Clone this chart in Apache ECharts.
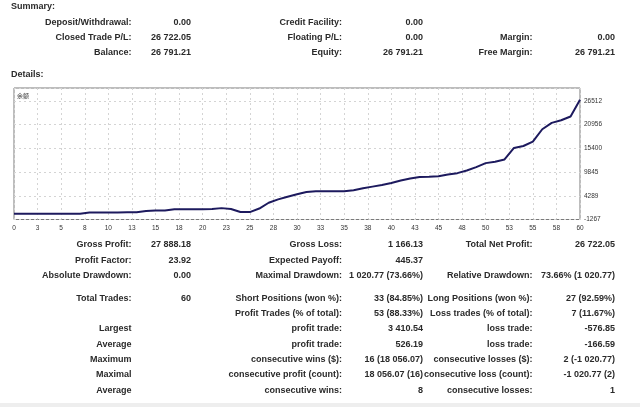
<!DOCTYPE html>
<html>
<head>
<meta charset="utf-8">
<script src="https://cdn.jsdelivr.net/npm/echarts@6/dist/echarts.min.js"></script>
<style>
html, body { margin: 0; padding: 0; background: #fff; }
#main { width: 640px; height: 407px; }
</style>
</head>
<body>
<div id="main"></div>
<script>
// balance after each trade (trade 0 = start)
var balance = [
	69.16, 72, 76, 81, 85, 90, 96, 101,
	380, 385, 392, 398, 404, 410,
	700, 855, 870,
	1150, 1155, 1160, 1165, 1170,
	1400, 1200, 480, 470, 1300,
	2660, 3450, 4080, 4630, 5180,
	5339, 5350, 5360, 5370,
	5600, 6050, 6440, 6830, 7310,
	7857, 8329, 8721, 8740, 8880,
	9273, 9600, 10217, 11000, 11947,
	12260, 12810, 15500, 15959, 17000,
	19890, 21380, 22000, 22880, 26791.21
];
var xTickLabels = ['0','3','5','8','10','13','15','18','20','23','25','28','30','33','35','38','40','43','45','48','50','53','55','58','60'];
var yTickLabels = ['-1267','4289','9845','15400','20956','26512'];

var summaryRows = [
	['Deposit/Withdrawal:', '0.00', 'Credit Facility:', '0.00', '', ''],
	['Closed Trade P/L:', '26 722.05', 'Floating P/L:', '0.00', 'Margin:', '0.00'],
	['Balance:', '26 791.21', 'Equity:', '26 791.21', 'Free Margin:', '26 791.21']
];
var detailRows = [
	['Gross Profit:', '27 888.18', 'Gross Loss:', '1 166.13', 'Total Net Profit:', '26 722.05'],
	['Profit Factor:', '23.92', 'Expected Payoff:', '445.37', '', ''],
	['Absolute Drawdown:', '0.00', 'Maximal Drawdown:', '1 020.77 (73.66%)', 'Relative Drawdown:', '73.66% (1 020.77)'],
	['Total Trades:', '60', 'Short Positions (won %):', '33 (84.85%)', 'Long Positions (won %):', '27 (92.59%)'],
	['', '', 'Profit Trades (% of total):', '53 (88.33%)', 'Loss trades (% of total):', '7 (11.67%)'],
	['Largest', '', 'profit trade:', '3 410.54', 'loss trade:', '-576.85'],
	['Average', '', 'profit trade:', '526.19', 'loss trade:', '-166.59'],
	['Maximum', '', 'consecutive wins ($):', '16 (18 056.07)', 'consecutive losses ($):', '2 (-1 020.77)'],
	['Maximal', '', 'consecutive profit (count):', '18 056.07 (16)', 'consecutive loss (count):', '-1 020.77 (2)'],
	['Average', '', 'consecutive wins:', '8', 'consecutive losses:', '1']
];

// layout
var colRight = [131.5, 191, 342, 423, 532.5, 615];
var summaryY = [22.3, 37.3, 52.3];
var detailY = [245, 260.3, 275.6, 298.3, 313.6, 329, 344.3, 359.6, 375, 390.3];
var boldFont = 'bold 9px "Liberation Sans", Arial, sans-serif';

function makeText(x, y, text, align) {
	return {
		type: 'text',
		x: x,
		y: y,
		silent: true,
		style: {
			text: text,
			fill: '#2a2a2a',
			font: boldFont,
			align: align,
			textAlign: align,
			verticalAlign: 'middle',
			textVerticalAlign: 'middle'
		}
	};
}

var graphics = [];
graphics.push(makeText(11, 6.7, 'Summary:', 'left'));
graphics.push(makeText(11, 75, 'Details:', 'left'));
summaryRows.forEach(function(row, i) {
	row.forEach(function(cell, j) {
		if (cell !== '') graphics.push(makeText(colRight[j], summaryY[i], cell, 'right'));
	});
});
detailRows.forEach(function(row, i) {
	row.forEach(function(cell, j) {
		if (cell !== '') graphics.push(makeText(colRight[j], detailY[i], cell, 'right'));
	});
});
// chart caption
graphics.push({
	type: 'text', x: 17, y: 96, silent: true,
	style: { text: '余额', fill: '#333', font: '6px "Noto Sans CJK SC", sans-serif', verticalAlign: 'middle', textVerticalAlign: 'middle' }
});
// grey strip at the bottom
graphics.push({
	type: 'rect', silent: true,
	shape: { x: 0, y: 403, width: 640, height: 4 },
	style: { fill: '#eeeeee' }
});

var lineData = balance.map(function(v, i) { return [i, v]; });
var yMin = Number(yTickLabels[0]);
var yStep = (Number(yTickLabels[yTickLabels.length - 1]) - yMin) / (yTickLabels.length - 1);

var myChart = echarts.init(document.getElementById('main'));
var option = {
	animation: false,
	backgroundColor: '#ffffff',
	grid: {
		left: 14,
		top: 88,
		right: 60,
		bottom: 187.5,
		show: true,
		borderColor: '#7a7a7a',
		borderWidth: 1,
		backgroundColor: '#ffffff',
		outerBoundsMode: 'none'
	},
	xAxis: {
		type: 'value',
		min: 0,
		max: 60,
		interval: 2.5,
		axisLine: { show: false },
		axisTick: { show: false },
		axisLabel: {
			margin: 5,
			fontSize: 6.5,
			color: '#333',
			fontFamily: '"Liberation Sans", Arial, sans-serif',
			formatter: function(v) {
				var k = Math.round(v / 2.5);
				return xTickLabels[k] || '';
			}
		},
		splitLine: { show: true, lineStyle: { color: '#d4d4d4', type: [2, 3], width: 1 } }
	},
	yAxis: {
		type: 'value',
		position: 'right',
		min: yMin,
		max: 29560,
		interval: yStep,
		axisLine: { show: false },
		axisTick: { show: false },
		axisLabel: {
			margin: 4,
			fontSize: 6.5,
			color: '#333',
			fontFamily: '"Liberation Sans", Arial, sans-serif',
			showMaxLabel: false,
			formatter: function(v) {
				var k = Math.round((v - yMin) / yStep);
				if (Math.abs(yMin + k * yStep - v) > 1) return '';
				return yTickLabels[k] || '';
			}
		},
		splitLine: { show: true, lineStyle: { color: '#d4d4d4', type: [2, 3], width: 1 } }
	},
	series: [
		{
			name: '余额',
			type: 'line',
			data: lineData,
			showSymbol: false,
			lineStyle: { color: '#1d1a5e', width: 2 }
		}
	],
	graphic: graphics
};
myChart.setOption(option);
</script>
</body>
</html>
